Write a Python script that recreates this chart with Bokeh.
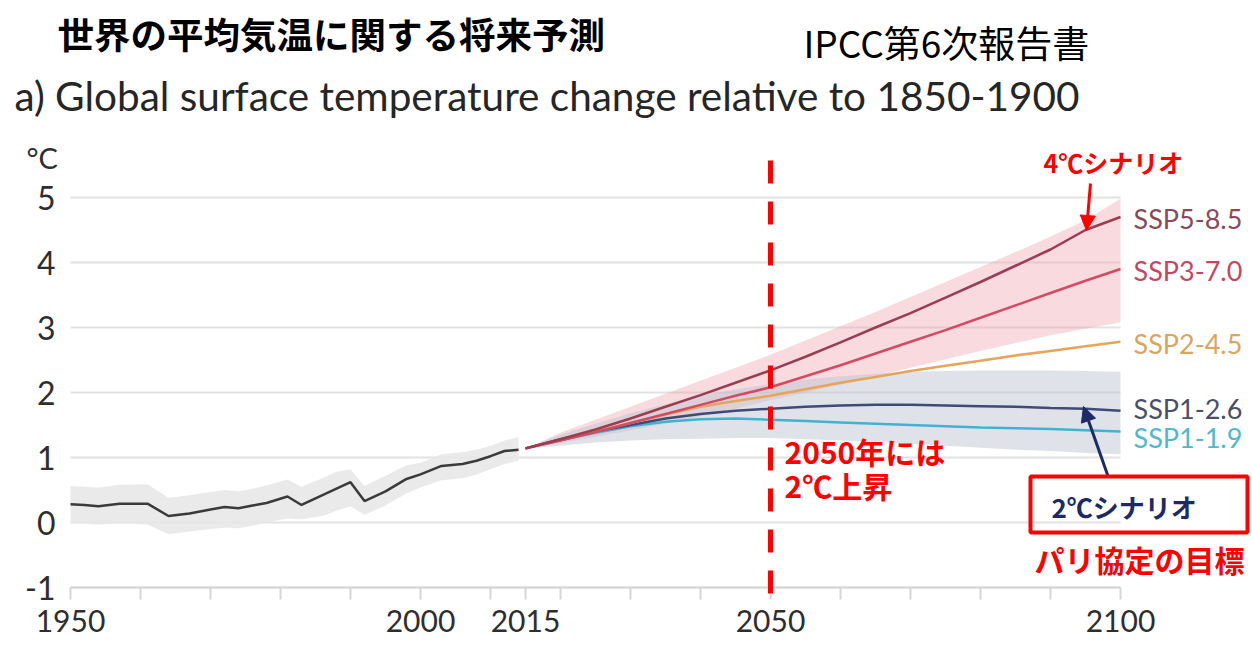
from bokeh.plotting import figure
from bokeh.models import Range1d, FixedTicker, Label, Arrow, NormalHead, PolyAnnotation
from bokeh.embed import file_html
from bokeh.resources import INLINE

# ---------------- data ----------------
hist_years = [1950, 1952, 1954, 1957, 1961, 1964, 1967, 1970, 1972, 1974, 1976, 1978,
              1981, 1983, 1986, 1988, 1990, 1992, 1995, 1998, 2000, 2003, 2006, 2008,
              2010, 2012, 2014]
hist_mean = [0.28, 0.27, 0.25, 0.29, 0.29, 0.10, 0.14, 0.20, 0.24, 0.22, 0.26, 0.30,
             0.40, 0.27, 0.42, 0.52, 0.62, 0.33, 0.48, 0.67, 0.74, 0.87, 0.90, 0.95,
             1.02, 1.10, 1.12]
hist_low = [0.00, -0.02, -0.03, -0.01, -0.03, -0.18, -0.14, -0.10, -0.08, -0.09, -0.05, 0.00,
            0.06, 0.05, 0.10, 0.18, 0.25, 0.12, 0.26, 0.45, 0.54, 0.65, 0.68, 0.74,
            0.82, 0.90, 0.95]
hist_high = [0.56, 0.55, 0.54, 0.58, 0.59, 0.38, 0.42, 0.47, 0.50, 0.48, 0.52, 0.57,
             0.66, 0.55, 0.68, 0.78, 0.82, 0.56, 0.72, 0.88, 0.92, 1.05, 1.08, 1.12,
             1.18, 1.26, 1.31]

proj_years = [2015, 2020, 2025, 2030, 2035, 2040, 2045, 2050, 2055, 2060, 2065, 2070,
              2075, 2080, 2085, 2090, 2095, 2100]
ssp585 = [1.14, 1.28, 1.43, 1.60, 1.78, 1.96, 2.15, 2.34, 2.55, 2.77, 3.00, 3.22,
          3.46, 3.70, 3.95, 4.20, 4.50, 4.70]
ssp370 = [1.14, 1.26, 1.39, 1.53, 1.67, 1.81, 1.95, 2.08, 2.25, 2.42, 2.60, 2.78,
          2.96, 3.15, 3.34, 3.53, 3.72, 3.90]
ssp245 = [1.14, 1.27, 1.40, 1.53, 1.66, 1.78, 1.87, 1.95, 2.05, 2.15, 2.24, 2.33,
          2.41, 2.49, 2.57, 2.64, 2.71, 2.78]
ssp126 = [1.14, 1.28, 1.40, 1.50, 1.60, 1.67, 1.72, 1.75, 1.78, 1.80, 1.81, 1.81,
          1.80, 1.79, 1.78, 1.76, 1.75, 1.72]
ssp119 = [1.14, 1.27, 1.38, 1.48, 1.55, 1.59, 1.60, 1.58, 1.56, 1.54, 1.52, 1.50,
          1.48, 1.46, 1.45, 1.44, 1.42, 1.40]

red_band_low = [1.14, 1.22, 1.32, 1.42, 1.52, 1.63, 1.75, 1.88, 2.00, 2.12, 2.25, 2.38,
                2.51, 2.64, 2.76, 2.88, 2.98, 3.08]
red_band_high = [1.14, 1.38, 1.58, 1.78, 1.98, 2.18, 2.38, 2.58, 2.80, 3.02, 3.24, 3.47,
                 3.70, 3.93, 4.16, 4.40, 4.65, 4.98]
blue_band_low = [1.14, 1.18, 1.23, 1.26, 1.28, 1.29, 1.30, 1.30, 1.28, 1.26, 1.24, 1.21,
                 1.18, 1.15, 1.12, 1.10, 1.07, 1.05]
blue_band_high = [1.14, 1.35, 1.52, 1.68, 1.82, 1.95, 2.05, 2.13, 2.20, 2.25, 2.29, 2.32,
                  2.33, 2.34, 2.34, 2.34, 2.33, 2.32]

scenario_names = ["SSP5-8.5", "SSP3-7.0", "SSP2-4.5", "SSP1-2.6", "SSP1-1.9"]
scenario_values = [ssp585, ssp370, ssp245, ssp126, ssp119]
line_colors = ["#9a3d50", "#d24a63", "#e5a55a", "#3f4a78", "#3fb3d2"]
label_colors = ["#8b4a5a", "#c4475f", "#dba55e", "#4a5068", "#4fb8cf"]
label_img_y = [218, 270, 343, 408, 437]

x_ticks = [1950, 1960, 1970, 1980, 1990, 2000, 2010, 2015, 2020, 2030, 2040, 2050,
           2060, 2070, 2080, 2090, 2100]
x_tick_labels = ["1950", "", "", "", "", "2000", "", "2015", "", "", "", "2050",
                 "", "", "", "", "2100"]
y_ticks = [-1, 0, 1, 2, 3, 4, 5]
y_tick_labels = ["-1", "0", "1", "2", "3", "4", "5"]

X_FIRST, X_LAST = x_ticks[0], x_ticks[-1]
Y_FIRST = y_ticks[0]

# ---------------- layout ----------------
FIG_W, FIG_H = 1252, 647
X_PIX0, PX_PER_YEAR = 70.0, 7.0      # pixel of first year, pixels per year
Y_PIX0, PX_PER_UNIT = 522.0, 65.0    # pixel of 0 degC, pixels per degC
x_start = X_FIRST - X_PIX0 / PX_PER_YEAR
x_end = x_start + FIG_W / PX_PER_YEAR
y_end = Y_PIX0 / PX_PER_UNIT
y_start = y_end - FIG_H / PX_PER_UNIT


def X(img_x):
    return x_start + img_x / PX_PER_YEAR


def Y(img_y):
    return y_end - img_y / PX_PER_UNIT


p = figure(width=FIG_W, height=FIG_H, x_range=Range1d(x_start, x_end),
           y_range=Range1d(y_start, y_end), output_backend="svg", toolbar_location=None,
           min_border=0, min_border_left=0, min_border_right=0,
           min_border_top=0, min_border_bottom=0)
p.outline_line_color = None
p.background_fill_color = "white"
p.border_fill_color = "white"
p.xgrid.visible = False
p.ygrid.visible = False

# horizontal gridlines limited to the data period
p.segment(x0=[X_FIRST] * len(y_ticks), x1=[X_LAST] * len(y_ticks), y0=y_ticks, y1=y_ticks,
          line_color="#e2e2e2", line_width=2)

p.yaxis.fixed_location = X_FIRST
p.yaxis.ticker = FixedTicker(ticks=y_ticks)
p.yaxis.major_label_overrides = {t: s for t, s in zip(y_ticks, y_tick_labels)}
p.yaxis.axis_line_color = None
p.yaxis.major_tick_line_color = None
p.yaxis.minor_tick_line_color = None
p.yaxis.major_label_text_font = "Lato"
p.yaxis.major_label_text_font_size = "32px"
p.yaxis.major_label_text_color = "#2e2e2e"
p.yaxis.major_label_standoff = 9

p.xaxis.fixed_location = Y_FIRST
p.xaxis.bounds = (X_FIRST, X_LAST)
p.xaxis.ticker = FixedTicker(ticks=x_ticks)
p.xaxis.major_label_overrides = {t: s for t, s in zip(x_ticks, x_tick_labels)}
p.xaxis.axis_line_color = "#d6d6d6"
p.xaxis.axis_line_width = 2
p.xaxis.major_tick_line_color = "#d6d6d6"
p.xaxis.major_tick_line_width = 2
p.xaxis.major_tick_in = 0
p.xaxis.major_tick_out = 12
p.xaxis.minor_tick_line_color = None
p.xaxis.major_label_text_font = "Lato"
p.xaxis.major_label_text_font_size = "30px"
p.xaxis.major_label_text_color = "#2e2e2e"
p.xaxis.major_label_standoff = 10

# bands
p.varea(x=hist_years, y1=hist_low, y2=hist_high, fill_color="#e8e8e8", fill_alpha=0.9)
p.varea(x=proj_years, y1=red_band_low, y2=red_band_high, fill_color="#eea3ae", fill_alpha=0.40)
p.varea(x=proj_years, y1=blue_band_low, y2=blue_band_high, fill_color="#bcc5d1", fill_alpha=0.48)

# lines
p.line(hist_years, hist_mean, line_color="#3a3a3a", line_width=2.5)
for vals, col in zip(reversed(scenario_values), reversed(line_colors)):
    p.line(proj_years, vals, line_color=col, line_width=2.5)

JP = "Noto Sans CJK JP"


def lab(ix, iy, text, size, color="black", bold=False, font=JP):
    p.add_layout(Label(x=X(ix), y=Y(iy), text=text,
                       text_font=font, text_font_size=size, text_color=color,
                       text_font_style="bold" if bold else "normal",
                       text_baseline="middle", text_align="left"))


# scenario labels
for name, col, iy in zip(scenario_names, label_colors, label_img_y):
    lab(1133, iy, name, "27px", col, False, "Lato")

lab(57, 33, "世界の平均気温に関する将来予測", "36.5px", "black", True)
lab(803, 41, "IPCC第6次報告書", "37px", "black", False)
lab(14, 95, "a) Global surface temperature change relative to 1850-1900", "40.5px", "#262626", False, "Lato")
lab(26, 157, "°C", "29px", "#2e2e2e", False, "Lato")
lab(1043, 161, "4℃シナリオ", "25px", "#ff0000", True)
lab(784, 450, "2050年には", "30px", "#ff0000", True)
lab(784, 484, "2℃上昇", "30px", "#ff0000", True)
lab(1051, 506, "2℃シナリオ", "26px", "#1c2a66", True)
lab(1034, 558, "パリ協定の目標", "30px", "#ff0000", True)

# dashed 2050 marker
p.add_layout(Arrow(x_start=2050, y_start=Y(160), x_end=2050, y_end=Y(608), end=None,
                   line_color="#ff0000", line_width=5, line_dash="23 18"))

# arrows
p.add_layout(Arrow(x_start=X(1090), y_start=Y(183), x_end=X(1086), y_end=Y(230),
                   line_color="#ff0000", line_width=3,
                   end=NormalHead(size=15, fill_color="#ff0000", line_color="#ff0000")))
p.add_layout(Arrow(x_start=X(1108), y_start=Y(477), x_end=X(1083), y_end=Y(406),
                   line_color="#1c2a66", line_width=3,
                   end=NormalHead(size=15, fill_color="#1c2a66", line_color="#1c2a66")))

# red box
p.add_layout(PolyAnnotation(xs=[X(1030), X(1247), X(1247), X(1030)],
                            ys=[Y(476), Y(476), Y(532), Y(532)],
                            fill_color=None, fill_alpha=0, line_color="#ff0000",
                            line_alpha=1.0, line_width=4))

open("out.html", "w").write(file_html(p, INLINE))
